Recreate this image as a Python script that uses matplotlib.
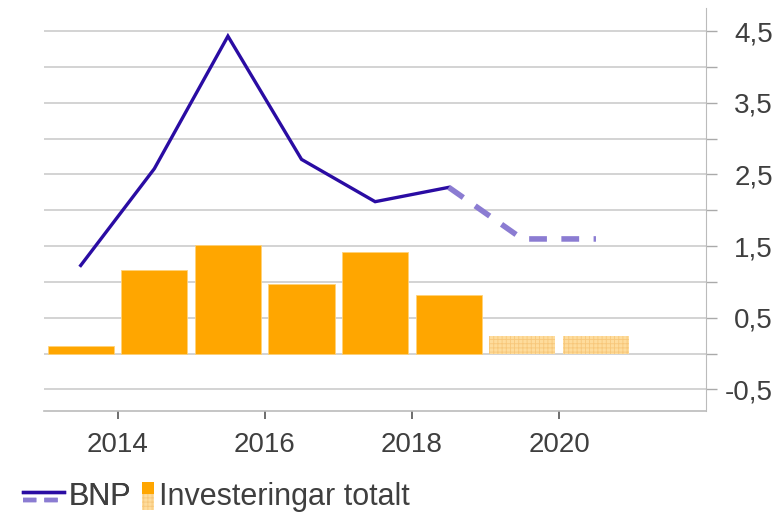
import matplotlib as mpl
import matplotlib.pyplot as plt
from matplotlib.legend_handler import HandlerBase
from matplotlib.lines import Line2D
from matplotlib.patches import Rectangle

mpl.rcParams.update(
    {
        "font.family": ["Liberation Sans", "DejaVu Sans"],
        "font.size": 16,
        "text.color": "#3f3f3f",
        "xtick.color": "#555555",
        "ytick.color": "#aaaaaa",
        "xtick.labelcolor": "#3f3f3f",
        "ytick.labelcolor": "#3f3f3f",
        "hatch.linewidth": 0.6,
    }
)

years = [2013.5, 2014.5, 2015.5, 2016.5, 2017.5, 2018.5, 2019.5, 2020.5]
bnp = [1.23, 2.58, 4.43, 2.71, 2.12, 2.32, 1.6, 1.6]
investeringar = [0.11, 1.17, 1.51, 0.97, 1.42, 0.82, 0.24, 0.24]
n_actual = 6  # first six years are outcomes, rest forecast
ytick_values = [-0.5, 0, 0.5, 1, 1.5, 2, 2.5, 3, 3.5, 4, 4.5]
ytick_labels = ["-0,5", "", "0,5", "", "1,5", "", "2,5", "", "3,5", "", "4,5"]
xtick_values = [2014, 2016, 2018, 2020]

LINE = "#2a0ca3"
LINE_FC = "#8b7cd2"
BAR = "#ffa600"
BAR_FC = "#fedc9c"
BAR_HATCH = "#f7c77a"
GRID = "#cccccc"


class StackHandler(HandlerBase):
    def __init__(self, kind):
        super().__init__()
        self.kind = kind

    def create_artists(self, legend, orig_handle, xdescent, ydescent, width, height, fontsize, trans):
        x0 = -xdescent
        if self.kind == "line":
            top = Line2D([x0, x0 + width], [height * 0.62] * 2, color=LINE, lw=2.4, transform=trans)
            bot = Line2D([x0, x0 + width], [height * 0.24] * 2, color=LINE_FC, lw=3.2,
                         linestyle=(0, (3.0, 1.8)), transform=trans)
            return [top, bot]
        top = Rectangle((x0, height * 0.5), width, height * 0.57, facecolor=BAR, lw=0, transform=trans)
        bot = Rectangle((x0, -height * 0.22), width, height * 0.72, facecolor=BAR_FC, edgecolor=BAR_HATCH,
                        hatch="++++", lw=0, transform=trans)
        return [top, bot]


fig = plt.figure(figsize=(7.84, 5.13), dpi=100)
ax = fig.add_axes([0.056, 0.199, 0.845, 0.785])

for y in ytick_values:
    ax.axhline(y, color=GRID, lw=1.2, zorder=0)

ax.bar(years[:n_actual], investeringar[:n_actual], width=0.9, color=BAR, edgecolor="#ffd27a", lw=0.6, zorder=2)
ax.bar(years[n_actual:], investeringar[n_actual:], width=0.9, color=BAR_FC, edgecolor=BAR_HATCH,
       hatch="++++", lw=0, zorder=2)

ax.plot(years[:n_actual], bnp[:n_actual], color=LINE, lw=2.4, zorder=3, solid_joinstyle="miter")
ax.plot(years[n_actual - 1:], bnp[n_actual - 1:], color=LINE_FC, lw=4, linestyle=(0, (3.2, 2.6)), zorder=3)

ax.set_xlim(2013, 2022)
ax.set_ylim(-0.8, 4.82)
ax.yaxis.tick_right()
ax.set_yticks(ytick_values)
ax.set_yticklabels(ytick_labels)
ax.tick_params(axis="y", length=8, width=1, pad=40, labelsize=20)
for lab in ax.get_yticklabels():
    lab.set_horizontalalignment("right")
ax.set_xticks(xtick_values)
ax.set_xticklabels([str(x) for x in xtick_values])
ax.tick_params(axis="x", length=6, width=1.2, pad=9, labelsize=20)

for side in ("top", "left"):
    ax.spines[side].set_visible(False)
ax.spines["right"].set_color("#bbbbbb")
ax.spines["bottom"].set_color("#bbbbbb")
ax.spines["bottom"].set_linewidth(1.2)

legend_kw = dict(loc="center left", frameon=False, fontsize=22, handletextpad=0.15,
                 borderaxespad=0.0, borderpad=0.0)
h_line = Line2D([], [])
leg1 = fig.legend([h_line], ["BNP"], handler_map={h_line: StackHandler("line")},
                  bbox_to_anchor=(0.029, 0.031), handlelength=1.35, **legend_kw)
h_bar = Rectangle((0, 0), 1, 1)
fig.legend([h_bar], ["Investeringar totalt"], handler_map={h_bar: StackHandler("bar")},
           bbox_to_anchor=(0.181, 0.031), handlelength=0.4, **legend_kw)
fig.add_artist(leg1)

fig.savefig("out.png", dpi=100, facecolor="white")
